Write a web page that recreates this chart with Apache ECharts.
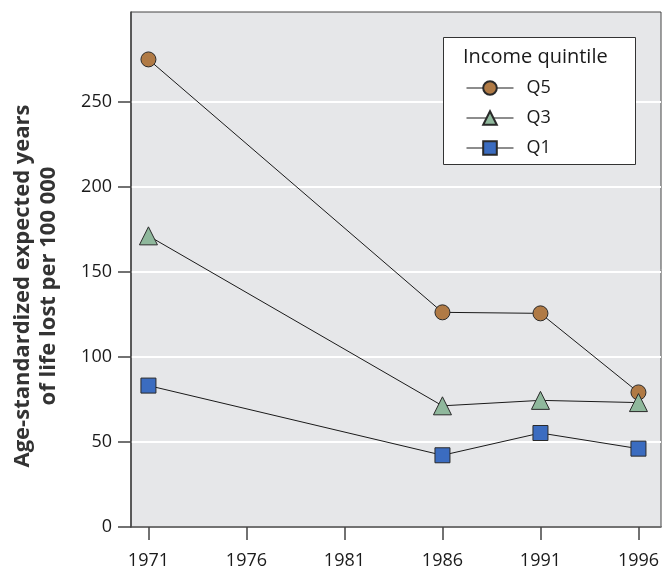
<!DOCTYPE html>
<html>
<head>
<meta charset="utf-8">
<script src="https://cdn.jsdelivr.net/npm/echarts@6/dist/echarts.min.js"></script>
<style>
html,body{margin:0;padding:0;background:#fff;}
#c{width:663px;height:568px;}
</style>
</head>
<body>
<div id="c"></div>
<script>
const years = [1971, 1986, 1991, 1996];
const xTicks = [1971, 1976, 1981, 1986, 1991, 1996];
const yTicks = [0, 50, 100, 150, 200, 250];
const q5 = [275.1, 126.3, 125.7, 79.2];
const q3 = [171.3, 71.3, 74.5, 73.2];
const q1 = [83.2, 42.2, 55.3, 46.1];
const seriesNames = ['Q5', 'Q3', 'Q1'];
const legendTitle = 'Income quintile';
const yTitle = 'Age-standardized expected years\nof life lost per 100 000';

const FONT = '"Open Sans", sans-serif';
const chart = echarts.init(document.getElementById('c'), null, {renderer: 'canvas'});

function mk(name, vals, symbol, size, color) {
  return {
    name: name,
    type: 'line',
    data: years.map((y, i) => [y, vals[i]]),
    symbol: symbol,
    symbolSize: size,
    showAllSymbol: true,
    lineStyle: {color: '#1a1a1a', width: 1},
    itemStyle: {color: color, borderColor: '#2a2a2a', borderWidth: 1},
    emphasis: {disabled: true},
    animation: false,
    z: 3
  };
}

chart.setOption({
  animation: false,
  textStyle: {fontFamily: FONT},
  grid: {
    left: 131, top: 12, right: 2, bottom: 41,
    outerBoundsMode: 'none', containLabel: false,
    show: true, backgroundColor: '#e6e7e9', borderColor: '#444', borderWidth: 1
  },
  xAxis: {
    type: 'value',
    min: 1970.11, max: 1997.15,
    axisLine: {show: true, onZero: false, lineStyle: {color: '#444', width: 1.5}},
    axisTick: {show: true, length: 13, customValues: xTicks, lineStyle: {color: '#444', width: 1.5}},
    axisLabel: {customValues: xTicks, margin: 25, fontSize: 18, color: '#1a1a1a', fontFamily: FONT,
                formatter: v => String(v)},
    splitLine: {show: false}
  },
  yAxis: {
    type: 'value',
    min: 0, max: 303,
    axisLine: {show: true, lineStyle: {color: '#444', width: 1.5}},
    axisTick: {show: true, length: 13, customValues: yTicks, lineStyle: {color: '#444', width: 1.5}},
    axisLabel: {customValues: yTicks, margin: 19, fontSize: 18, color: '#1a1a1a', fontFamily: FONT},
    splitLine: {show: true, lineStyle: {color: '#ffffff', width: 2}}
  },
  legend: {
    orient: 'vertical',
    left: 461, top: 74, z: 20,
    itemWidth: 47, itemHeight: 17, itemGap: 12,
    data: seriesNames,
    lineStyle: {width: 1, color: '#1a1a1a'},
    textStyle: {fontSize: 18, color: '#1a1a1a', fontFamily: FONT, padding: [0, 0, 0, 8]},
    selectedMode: false
  },
  graphic: [
    {type: 'rect', left: 443, top: 37, z: 10, shape: {width: 192, height: 127},
     style: {fill: '#ffffff', stroke: '#333', lineWidth: 1}},
    {type: 'text', left: 463, top: 47, z: 11,
     style: {text: legendTitle, fontSize: 20, fill: '#1a1a1a', fontFamily: FONT}},
    {type: 'text', x: 36, y: 286, rotation: Math.PI / 2, z: 11,
     style: {text: yTitle, fontSize: 22, fontWeight: 'bold', fill: '#333', fontFamily: FONT,
             align: 'center', verticalAlign: 'middle', lineHeight: 26}}
  ],
  series: [
    mk(seriesNames[0], q5, 'circle', 15, '#b07a45'),
    mk(seriesNames[1], q3, 'triangle', 18, '#8fb89c'),
    mk(seriesNames[2], q1, 'rect', 15, '#3b6cc0')
  ]
});
</script>
</body>
</html>
